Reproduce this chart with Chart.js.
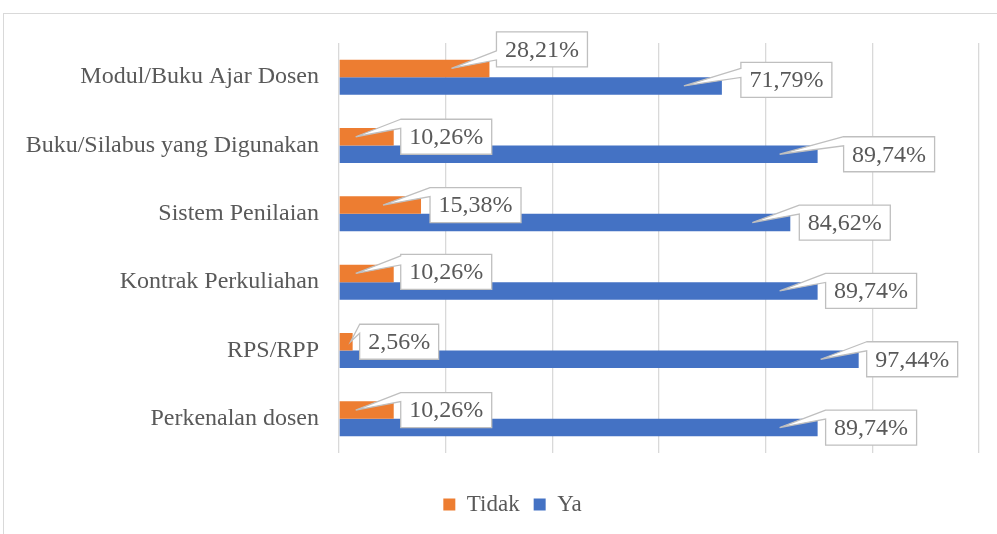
<!DOCTYPE html>
<html>
<head>
<meta charset="utf-8">
<script src="https://cdn.jsdelivr.net/npm/chart.js@4.4.1/dist/chart.umd.min.js"></script>
<style>
    html, body { margin: 0; padding: 0; background: #fff; overflow: hidden; }
    #wrap { position: relative; width: 997px; height: 534px; }
    #frame { position: absolute; left: 3px; top: 13px; width: 1100px; height: 600px;
             border-left: 1.5px solid #d9d9d9; border-top: 1.5px solid #d9d9d9; }
    #chart { position: absolute; left: 0; top: 0; }
</style>
</head>
<body>
<div id="wrap">
    <div id="frame"></div>
    <canvas id="chart" width="997" height="534"></canvas>
</div>
<script>
const categories = ['Modul/Buku Ajar Dosen', 'Buku/Silabus yang Digunakan', 'Sistem Penilaian',
    'Kontrak Perkuliahan', 'RPS/RPP', 'Perkenalan dosen'];
const tidakValues = [28.21, 10.26, 15.38, 10.26, 2.56, 10.26];
const yaValues = [71.79, 89.74, 84.62, 89.74, 97.44, 89.74];
const axisTicks = [0, 20, 40, 60, 80, 100, 120];

const serif = '"Liberation Serif", "Times New Roman", serif';

// callout boxes: shift from the bar end [dx, dy] for each series
const calloutShift = [
    [[7, -19], [7, 0], [9, 0], [7, -1.5], [7, 0], [7, 0]],
    [[19, -6], [26, 0], [9, 0], [8, 0], [8, 0], [8, 0]]
];

const calloutPlugin = {
    id: 'callouts',
    afterLayout(chart) {
        // legend sits a bit right of the canvas centre
        if (chart.legend) {
            chart.legend.left += 23;
            chart.legend.right += 23;
        }
    },
    afterDatasetsDraw(chart) {
        const ctx = chart.ctx;
        ctx.save();
        ctx.font = '24px ' + serif;
        ctx.textBaseline = 'middle';
        ctx.textAlign = 'center';
        chart.data.datasets.forEach((ds, di) => {
            const meta = chart.getDatasetMeta(di);
            meta.data.forEach((bar, i) => {
                const txt = ds.data[i].toFixed(2).replace('.', ',') + '%';
                const tw = ctx.measureText(txt).width;
                const w = tw + 17, h = 35;
                const sh = calloutShift[di][i];
                const left = bar.x + sh[0];
                const top = bar.y + sh[1] - h / 2;
                const ax = (bar.x - bar.base > 45) ? bar.x - 38 : bar.x - 2;
                const ay = bar.y;
                let b0 = Math.min(Math.max(ay - h / 2, top), top + h - 9);
                ctx.beginPath();
                ctx.moveTo(left, b0);
                ctx.lineTo(ax, ay);
                ctx.lineTo(left, b0 + 9);
                ctx.lineTo(left, top + h);
                ctx.lineTo(left + w, top + h);
                ctx.lineTo(left + w, top);
                ctx.lineTo(left, top);
                ctx.closePath();
                ctx.fillStyle = '#ffffff';
                ctx.fill();
                ctx.strokeStyle = '#bfbfbf';
                ctx.lineWidth = 1.3;
                ctx.stroke();
                ctx.fillStyle = '#595959';
                ctx.fillText(txt, left + w / 2, top + h / 2 + 1);
            });
        });
        ctx.restore();
    }
};

function drawChart() {
    new Chart(document.getElementById('chart').getContext('2d'), {
        type: 'bar',
        data: {
            labels: categories,
            datasets: [{
                label: 'Tidak',
                data: tidakValues,
                backgroundColor: '#ED7D31',
                borderWidth: 0
            }, {
                label: 'Ya',
                data: yaValues,
                backgroundColor: '#4472C4',
                borderWidth: 0
            }]
        },
        options: {
            indexAxis: 'y',
            responsive: false,
            animation: false,
            layout: {
                padding: { top: 43, right: 18, bottom: 8, left: 0 }
            },
            datasets: {
                bar: { categoryPercentage: 0.512, barPercentage: 1 }
            },
            scales: {
                x: {
                    min: axisTicks[0],
                    max: axisTicks[axisTicks.length - 1],
                    afterBuildTicks: (scale) => { scale.ticks = axisTicks.map(v => ({ value: v })); },
                    afterFit: (scale) => { scale.height = 26; },
                    ticks: { display: false },
                    grid: { color: '#d9d9d9', lineWidth: 1.3, drawTicks: false },
                    border: { display: false }
                },
                y: {
                    afterFit: (scale) => { scale.width = 339; },
                    grid: { display: false, drawTicks: false },
                    border: { display: false },
                    ticks: {
                        padding: 20,
                        color: '#595959',
                        font: { family: serif, size: 24 }
                    }
                }
            },
            plugins: {
                legend: {
                    position: 'bottom',
                    labels: {
                        boxWidth: 12,
                        boxHeight: 12,
                        padding: 14,
                        color: '#595959',
                        font: { family: serif, size: 23 }
                    }
                },
                tooltip: { enabled: false }
            }
        },
        plugins: [calloutPlugin]
    });
}

if (document.fonts && document.fonts.load) {
    document.fonts.load('24px "Liberation Serif"').then(drawChart, drawChart);
} else {
    drawChart();
}
</script>
</body>
</html>
